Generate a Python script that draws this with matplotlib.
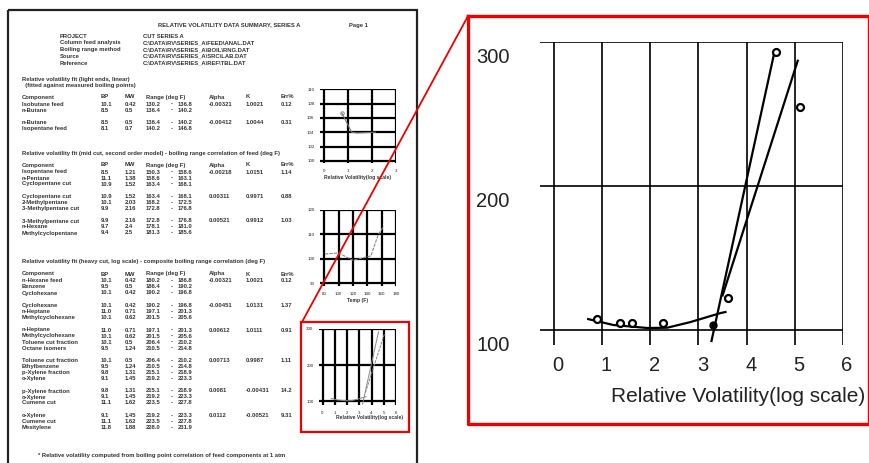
import matplotlib
matplotlib.use("Agg")
import matplotlib.pyplot as plt
from matplotlib.lines import Line2D
from matplotlib.patches import Rectangle
from matplotlib.transforms import ScaledTranslation

plt.rcParams['font.family'] = ['Liberation Sans', 'DejaVu Sans']

# zoomed chart: relative volatility fit
pts_x = [0.9, 1.38, 1.63, 2.27, 3.62, 4.6, 5.1]
pts_y = [107.6, 105, 105, 105, 122, 293, 255]
filled_x = [3.31]
filled_y = [103.5]
curve_x = [0.71, 1.23, 1.94, 2.35, 2.83, 3.46, 3.56]
curve_y = [107.6, 103.5, 101.4, 101.6, 105.5, 111.8, 112.5]
lineA_x = [3.27, 4.57]
lineA_y = [92.4, 292]
lineB_x = [3.5, 5.06]
lineB_y = [124, 287]
x_ticks = [0, 1, 2, 3, 4, 5, 6]
y_ticks = [100, 200, 300]
x_label = "Relative Volatility(log scale)"

# small charts on the page
m1_x = [0.74, 1.15, 1.36, 2.14]
m1_y = [106.7, 104.0, 103.9, 104.0]
m1_xticks = [0, 1, 2, 3]
m1_yticks = [100, 102, 104, 106, 108, 110]
m2_x = [81, 99.6, 119.6, 134, 145, 155, 162]
m2_y = [102, 102.4, 99.5, 100.4, 101.2, 109.8, 113]
m2_xticks = [80, 100, 120, 140, 160, 180]
m2_yticks = [90, 100, 110, 120]
m2_label = "Temp (F)"

# page text (illegible in the original, rendered tiny)
doc_title = "RELATIVE VOLATILITY DATA SUMMARY, SERIES A"
doc_page = "Page 1"
meta_left = ["PROJECT", "Column feed analysis", "Boiling range method", "Source", "Reference"]
meta_right = ["CUT SERIES A", "C:\\DATA\\RV\\SERIES_A\\FEED\\ANAL.DAT",
              "C:\\DATA\\RV\\SERIES_A\\BOIL\\RNG.DAT", "C:\\DATA\\RV\\SERIES_A\\SRC\\LAB.DAT",
              "C:\\DATA\\RV\\SERIES_A\\REF\\TBL.DAT"]
col_heads = ["Component", "BP", "MW", "Range (deg F)", "Alpha", "K", "Err%"]
sec_heads = ["Relative volatility fit (light ends, linear)",
             "Relative volatility fit (mid cut, second order model) - boiling range correlation of feed (deg F)",
             "Relative volatility fit (heavy cut, log scale) - composite boiling range correlation (deg F)"]
sec_sub = "  (fitted against measured boiling points)"
sec_groups = [
    [[("Isobutane feed", "10.1", "0.42", "130.2", "136.8", "-0.00321", "1.0021", "0.12"),
      ("n-Butane", "8.5", "0.5", "136.4", "140.2")],
     [("n-Butane", "8.5", "0.5", "136.4", "140.2", "-0.00412", "1.0044", "0.31"),
      ("Isopentane feed", "8.1", "0.7", "140.2", "146.8")]],
    [[("Isopentane feed", "8.5", "1.21", "150.3", "158.6", "-0.00218", "1.0151", "1.14"),
      ("n-Pentane", "11.1", "1.38", "158.6", "163.1"),
      ("Cyclopentane cut", "10.9", "1.52", "163.4", "168.1")],
     [("Cyclopentane cut", "10.9", "1.52", "163.4", "168.1", "0.00311", "0.9971", "0.88"),
      ("2-Methylpentane", "10.1", "2.03", "168.2", "172.5"),
      ("3-Methylpentane cut", "9.9", "2.16", "172.8", "176.8")],
     [("3-Methylpentane cut", "9.9", "2.16", "172.8", "176.8", "0.00521", "0.9912", "1.03"),
      ("n-Hexane", "9.7", "2.4", "178.1", "181.0"),
      ("Methylcyclopentane", "9.4", "2.5", "181.3", "185.6")]],
    [[("n-Hexane feed", "10.1", "0.42", "180.2", "186.8", "-0.00321", "1.0021", "0.12"),
      ("Benzene", "9.5", "0.5", "186.4", "190.2"),
      ("Cyclohexane", "10.1", "0.42", "190.2", "196.8")],
     [("Cyclohexane", "10.1", "0.42", "190.2", "196.8", "-0.00451", "1.0131", "1.37"),
      ("n-Heptane", "11.0", "0.71", "197.1", "201.3"),
      ("Methylcyclohexane", "10.1", "0.62", "201.5", "205.6")],
     [("n-Heptane", "11.0", "0.71", "197.1", "201.3", "0.00612", "1.0111", "0.91"),
      ("Methylcyclohexane", "10.1", "0.62", "201.5", "205.6"),
      ("Toluene cut fraction", "10.1", "0.5", "206.4", "210.2"),
      ("Octane isomers", "9.5", "1.24", "210.5", "214.8")],
     [("Toluene cut fraction", "10.1", "0.5", "206.4", "210.2", "0.00713", "0.9987", "1.11"),
      ("Ethylbenzene", "9.5", "1.24", "210.5", "214.8"),
      ("p-Xylene fraction", "9.8", "1.31", "215.1", "218.9"),
      ("o-Xylene", "9.1", "1.45", "219.2", "223.3")],
     [("p-Xylene fraction", "9.8", "1.31", "215.1", "218.9", "0.0081", "-0.00431", "14.2"),
      ("o-Xylene", "9.1", "1.45", "219.2", "223.3"),
      ("Cumene cut", "11.1", "1.62", "223.5", "227.8")],
     [("o-Xylene", "9.1", "1.45", "219.2", "223.3", "0.0112", "-0.00521", "9.31"),
      ("Cumene cut", "11.1", "1.62", "223.5", "227.8"),
      ("Mesitylene", "11.8", "1.88", "228.0", "231.9")]],
]
doc_footer = "* Relative volatility computed from boiling point correlation of feed components at 1 atm"

fig = plt.figure(figsize=(8.69, 4.63), dpi=100)

# background layer in pixel coordinates
bg = fig.add_axes([0, 0, 1, 1])
bg.set_xlim(0, 869)
bg.set_ylim(463, 0)
bg.axis('off')
bg.add_patch(Rectangle((8, 10), 409, 470, fill=False, ec='#222222', lw=1.6))

tk = dict(fontsize=4.2, color='#333333', fontweight='bold', va='center')
bg.text(229, 25, doc_title, ha='center', **tk)
bg.text(358, 25, doc_page, ha='center', **tk)
for i, (l, r) in enumerate(zip(meta_left, meta_right)):
    y = 36 + i * 6.8 if i else 36
    bg.text(60, y, l, ha='left', **tk)
    bg.text(143, y, r, ha='left', **tk)

col_x = [22, 101, 125, 146, 209, 246, 281]
sec_y = [79, 153, 262]
for s, groups in enumerate(sec_groups):
    y = sec_y[s]
    bg.text(22, y, sec_heads[s], ha='left', **tk)
    if s == 0:
        y += 6
        bg.text(22, y, sec_sub, ha='left', **tk)
    y += 12
    for cx, h in zip(col_x, col_heads):
        bg.text(cx, y, h, ha='left', **tk)
    y += 7
    for g in groups:
        for row in g:
            bg.text(22, y, row[0], ha='left', **tk)
            bg.text(101, y, row[1], ha='left', **tk)
            bg.text(125, y, row[2], ha='left', **tk)
            bg.text(146, y, row[3], ha='left', **tk)
            bg.text(172, y, "-", ha='center', **tk)
            bg.text(178, y, row[4], ha='left', **tk)
            if len(row) > 5:
                bg.text(209, y, row[5], ha='left', **tk)
                bg.text(246, y, row[6], ha='left', **tk)
                bg.text(281, y, row[7], ha='left', **tk)
            y += 6
        y += 6.5
bg.text(38, 456, doc_footer, ha='left', **tk)


def fig_rect(l, t, r, b):
    return [l / 869, 1 - b / 463, (r - l) / 869, (b - t) / 463]


def grid_axes(rect, xt, yt, xl, yl, lw, fs, pad):
    ax = fig.add_axes(rect)
    ax.set_xlim(*xl)
    ax.set_ylim(*yl)
    ax.set_xticks(xt)
    ax.set_yticks(yt)
    ax.grid(True, color='black', lw=lw)
    for sp in ax.spines.values():
        sp.set_visible(False)
    ax.tick_params(length=0, labelsize=fs, pad=pad, colors='#222222')
    ax.set_facecolor('none')
    return ax


# small chart 1
a1 = grid_axes(fig_rect(320, 89.3, 396, 163), m1_xticks, m1_yticks,
               (-0.17, 3.0), (99.7, 110), 1.6, 3.2, 4)
a1.plot(m1_x, m1_y, color='#777777', lw=0.8)
a1.plot(m1_x[:1], m1_y[:1], 'o', ms=2.5, mfc='none', mec='#777777', mew=0.6)
a1.set_xlabel(x_label, fontsize=3.6, fontweight='bold', color='#333333', labelpad=2)

# small chart 2
a2 = grid_axes(fig_rect(320, 210, 396, 286), m2_xticks, m2_yticks,
               (74, 180), (88.9, 120), 1.6, 3.2, 4)
a2.plot(m2_x, m2_y, color='#888888', lw=0.8, ls=(0, (3, 1)))
a2.set_xlabel(m2_label, fontsize=3.6, fontweight='bold', color='#333333', labelpad=2)

# small chart 3 (the one that is zoomed)
a3 = grid_axes(fig_rect(319, 329, 396, 405), x_ticks, y_ticks,
               (-0.29, 6), (89.6, 300), 1.6, 3.2, 4)
a3.plot(curve_x, curve_y, color='#888888', lw=0.7)
a3.plot(lineA_x, lineA_y, color='#888888', lw=0.7)
a3.plot(lineB_x, lineB_y, color='#888888', lw=0.7, ls=(0, (3, 1)))
a3.set_xlabel(x_label, fontsize=3.6, fontweight='bold', color='#333333', labelpad=2)
a3.xaxis.set_label_coords(0.66, -0.13)

# zoomed chart
ax = grid_axes(fig_rect(540, 42, 843, 345), x_ticks, y_ticks,
               (-0.29, 6), (89.6, 300), 1.2, 14.5, 8)
ax.tick_params(axis='y', pad=22)
for lab in ax.get_yticklabels():
    lab.set_transform(lab.get_transform() + ScaledTranslation(0, -13 / 100, fig.dpi_scale_trans))
for lab in ax.get_xticklabels():
    lab.set_transform(lab.get_transform() + ScaledTranslation(4 / 100, 0, fig.dpi_scale_trans))
ax.plot(curve_x, curve_y, color='black', lw=1.6)
ax.plot(lineA_x, lineA_y, color='black', lw=1.6)
ax.plot(lineB_x, lineB_y, color='black', lw=1.6)
ax.plot(pts_x, pts_y, 'o', ms=5, mfc='white', mec='black', mew=1.6)
ax.plot(filled_x, filled_y, 'o', ms=5, color='black')
ax.set_xlabel(x_label, fontsize=15, color='#222222')
ax.xaxis.set_label_coords((738 - 540) / 303, (345 - 397) / 303)
ax.xaxis.label.set_va('center')
ax.xaxis.label.set_ha('center')

# red highlight boxes and connector
red = dict(color='#ee0000', transform=bg.transData)
bg.add_patch(Rectangle((301, 322), 108, 110, fill=False, ec='#ee0000', lw=1.6, zorder=5))
fig.add_artist(Line2D([468, 869, 869, 468, 468], [16, 16, 424, 424, 16], lw=2.4, **red))
fig.add_artist(Line2D([302, 468], [322, 16], lw=1.3, **red))

fig.savefig('out.png', dpi=100)
